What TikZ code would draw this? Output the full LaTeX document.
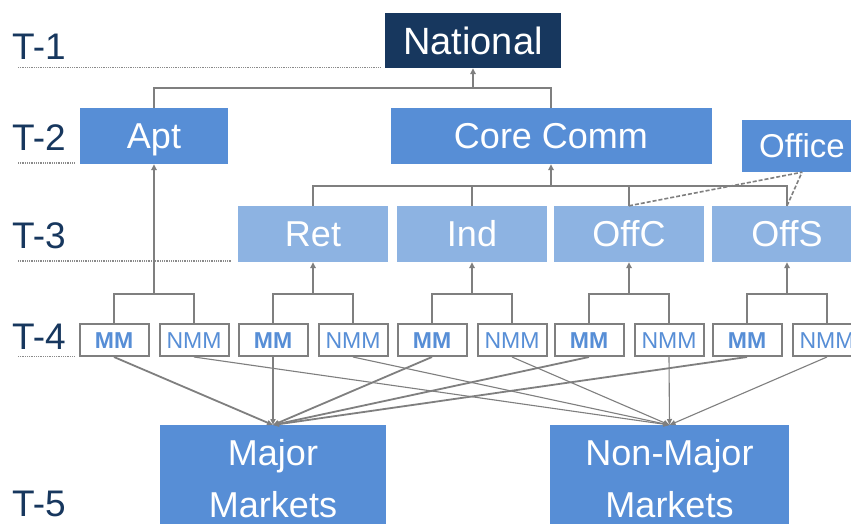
\documentclass[tikz,border=0pt]{standalone}
\usepackage{fontspec}
\setmainfont{Liberation Sans}
\usetikzlibrary{arrows.meta}
\definecolor{navy}{HTML}{17375E}
\definecolor{midblue}{HTML}{578ED6}
\definecolor{lightblue}{HTML}{8DB3E2}
\definecolor{linegray}{HTML}{7F7F7F}
\definecolor{dotgray}{HTML}{8A8A8A}
\tikzset{
  bigbox/.style={fill=midblue, draw=none, text=white, inner sep=0pt,
    font=\fontsize{36}{43}\selectfont, text height=25.8pt, text depth=0pt},
  natbox/.style={bigbox, fill=navy, font=\fontsize{38}{45}\selectfont, text height=27.2pt},
  officebox/.style={bigbox, font=\fontsize{33}{40}\selectfont, text height=23.6pt},
  tthree/.style={bigbox, fill=lightblue, minimum width=150pt, minimum height=56pt},
  mmbox/.style={fill=white, draw=linegray, line width=2pt, text=midblue, inner sep=0pt,
    minimum width=69pt, minimum height=32pt,
    font=\fontsize{23}{27}\selectfont, text height=16.5pt, text depth=0pt},
  mmbold/.style={mmbox, font=\fontsize{23}{27}\selectfont\bfseries},
  conn/.style={draw=linegray, line width=2pt},
  arr/.style={conn, -{Triangle[length=6pt,width=5.5pt]}},
  majarr/.style={draw=linegray, line width=1.8pt, -{Triangle[length=6pt,width=5pt]}},
  nmarr/.style={draw=linegray, line width=1.1pt, -{Triangle[length=6pt,width=5pt]}},
  tlabel/.style={text=navy, font=\fontsize{37}{44}\selectfont, inner sep=0pt, anchor=base west},
  tdots/.style={draw=dotgray, line width=1.4pt, dash pattern=on 1pt off 0.8pt},
  mktext/.style={text=white, font=\fontsize{36}{52}\selectfont, align=center, inner sep=0pt, anchor=north}
}
\begin{document}
\begin{tikzpicture}[x=1pt,y=-1pt]
\clip (0,0) rectangle (851,523);
\fill[white] (0,0) rectangle (851,523);

% tier labels and dotted guides
\node[tlabel] (t1) at (12,59) {T-1};
\node[tlabel] (t2) at (12,150) {T-2};
\node[tlabel] (t3) at (12,248) {T-3};
\node[tlabel] (t4) at (12,349) {T-4};
\node[tlabel] (t5) at (12,516) {T-5};
\coordinate (d1a) at (18,67.5); \coordinate (d1b) at (380,67.5);
\coordinate (d2a) at (18,163); \coordinate (d2b) at (75,163);
\coordinate (d3a) at (18,261); \coordinate (d3b) at (232,261);
\coordinate (d4a) at (18,356.5); \coordinate (d4b) at (75,356.5);
\draw[tdots] (d1a) -- (d1b);
\draw[tdots] (d2a) -- (d2b);
\draw[tdots] (d3a) -- (d3b);
\draw[tdots] (d4a) -- (d4b);

% T-1
\node[natbox, minimum width=176pt, minimum height=55pt] (national) at (473,40.5) {National};
% T-2
\node[bigbox, minimum width=148pt, minimum height=56pt] (apt) at (154,136) {Apt};
\node[bigbox, minimum width=321pt, minimum height=56pt] (core) at (551,136) {Core Comm};
\node[officebox, minimum width=120pt, minimum height=52pt] (office) at (802,146) {Office};
% T-3
\node[tthree] (ret) at (313,234) {Ret};
\node[tthree] (ind) at (472,234) {Ind};
\node[tthree] (offc) at (629,234) {OffC};
\node[tthree] (offs) at (787,234) {OffS};
% T-4
\foreach \c/\n in {154/1, 313/2, 472/3, 629/4, 787/5}{
  \node[mmbold] (mm\n) at (\c-40,340) {MM};
  \node[mmbox] (nmm\n) at (\c+40,340) {NMM};
  \coordinate (b\n) at (\c,294);
}
% T-5
\node[fill=midblue, minimum width=226pt, minimum height=120pt, inner sep=0pt, anchor=north] (major) at (273,425) {};
\node[fill=midblue, minimum width=239pt, minimum height=120pt, inner sep=0pt, anchor=north] (nonmajor) at (669.5,425) {};
\node[mktext] (majortext) at (273,439.2) {Major\\Markets};
\node[mktext] (nonmajortext) at (669.5,439.2) {Non-Major\\Markets};

% T-2 -> T-1
\coordinate (top) at (473,88);
\draw[conn] (apt.north) |- (top) -| (core.north);
\draw[arr] (top) -- (national.south);

% T-3 -> T-2
\coordinate (mid) at (551,186);
\draw[conn] (ret.north) |- (mid) -| (offs.north);
\draw[conn] (ind.north) -- (ind.north |- mid);
\draw[conn] (offc.north) -- (offc.north |- mid);
\draw[arr] (mid) -- (core.south);
\draw[draw=linegray, line width=1.6pt, dash pattern=on 4pt off 2pt] (offc.north) -- (office.south);
\draw[draw=linegray, line width=1.6pt, dash pattern=on 4pt off 2pt] (offs.north) -- (office.south);

% T-4 -> T-3 / T-2
\foreach \n in {1,...,5}{
  \draw[conn] (mm\n.north) |- (b\n) -| (nmm\n.north);
}
\draw[arr] (b1) -- (b1 |- apt.south);
\draw[arr] (b2) -- (b2 |- ret.south);
\draw[arr] (b3) -- (b3 |- ind.south);
\draw[arr] (b4) -- (b4 |- offc.south);
\draw[arr] (b5) -- (b5 |- offs.south);

% T-4 -> T-5
\foreach \n in {1,...,5}{
  \draw[nmarr] (nmm\n.south) -- (nonmajor.north);
}
\foreach \n in {1,...,5}{
  \draw[majarr] (mm\n.south) -- (major.north);
}
\end{tikzpicture}
\end{document}
